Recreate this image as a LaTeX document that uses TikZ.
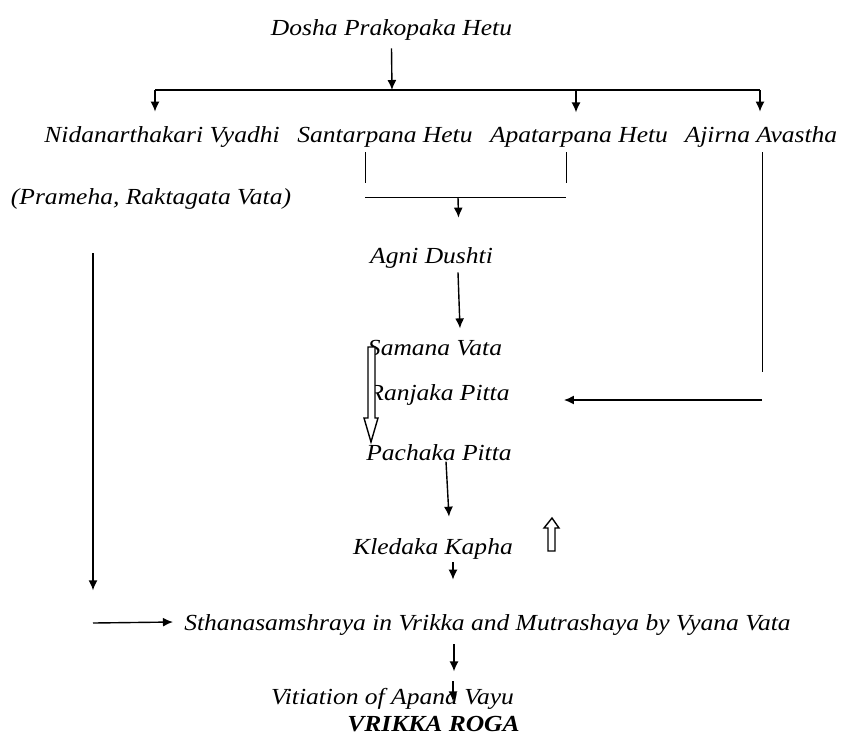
\documentclass[tikz,border=0pt]{standalone}
\usepackage{fontspec}
\setmainfont{Liberation Serif}[FakeStretch=1.11]
\usetikzlibrary{arrows.meta,positioning,calc}

\begin{document}
\begin{tikzpicture}[x=0.5pt,y=-0.5pt,>={Latex[length=5pt,width=4.5pt]},
  lbl/.style={font=\fontsize{11.5}{14}\selectfont\itshape,inner sep=0pt,anchor=base},
  arr/.style={->,line width=0.7pt},
  hollow/.style={draw,fill=white,line width=0.7pt}]
\useasboundingbox (0,0) rectangle (846,736);
% labels
\node[lbl] (dosha) at (391.5,35) {Dosha Prakopaka Hetu};
\node[lbl] (nidana) at (162,142) {Nidanarthakari Vyadhi};
\node[lbl] (santarpana) at (385,142) {Santarpana Hetu};
\node[lbl] (apatarpana) at (579,142) {Apatarpana Hetu};
\node[lbl] (ajirna) at (761,142) {Ajirna Avastha};
\node[lbl] (prameha) at (151,204) {(Prameha, Raktagata Vata)};
\node[lbl] (agni) at (431.5,263) {Agni Dushti};
\node[lbl] (samana) at (435,355) {Samana Vata};
\node[lbl] (ranjaka) at (439,400) {Ranjaka Pitta};
\node[lbl] (pachaka) at (439,460) {Pachaka Pitta};
\node[lbl] (kledaka) at (433,554) {Kledaka Kapha};
\node[lbl] (sthana) at (487.5,630) {Sthanasamshraya in Vrikka and Mutrashaya by Vyana Vata};
\node[lbl] (apana) at (392.5,704) {Vitiation of Apana Vayu};
\node[lbl,font=\fontsize{11.5}{14}\selectfont\bfseries\itshape] (roga) at (433.5,731) {VRIKKA ROGA};

% top split
\coordinate (trunk) at (392,90);
\coordinate (tl) at (155,90);
\coordinate (tr) at (760,90);
\draw[arr] ($(dosha.south)+(0,8)$) -- (trunk);
\draw[line width=0.7pt] (tl) -- (tr);
\draw[arr] (tl) -- ($(nidana.north)+(-7,-14)$);
\draw[arr] (tr -| 576,0) -- ($(apatarpana.north)+(-3,-14)$);
\draw[arr] (tr) -- ($(ajirna.north)+(-1,-14)$);

% santarpana / apatarpana bracket
\coordinate (bl) at (365,197);
\coordinate (br) at (566,197);
\coordinate (bm) at (458,197);
\draw ($(santarpana.south)+(-20,5)$) -- +(0,31);
\draw ($(apatarpana.south)+(-13,5)$) -- +(0,31);
\draw (bl) -- (br);
\draw[arr] (bm) -- ($(agni.north)+(27,-29)$);
\draw[arr] ($(agni.south)+(26.5,4)$) -- ($(samana.north)+(25,-11)$);

% ajirna to ranjaka
\coordinate (aj) at (762,400);
\draw ($(ajirna.south)+(1,5)$) -- +(0,220);
\draw[arr] (aj) -- ($(ranjaka.base east)+(54,0)$);

% hollow arrow down
\draw[hollow] (368,347) -- (375,347) -- (375,418) -- (378,418) -- (371,442)
  -- (364,418) -- (368,418) -- cycle;

\draw[arr] ($(pachaka.south)+(7,1)$) -- ($(kledaka.north)+(16,-21)$);

% hollow arrow up
\draw[hollow] (548,551) -- (555,551) -- (555,528) -- (559,528) -- (552,518)
  -- (544,528) -- (548,528) -- cycle;

\draw[arr] ($(kledaka.south)+(20,3)$) -- ($(sthana.north)+(-34.5,-34)$);

% nidanarthakari branch
\coordinate (nd) at (93,623);
\draw[arr] ($(prameha.south)+(-58,44)$) -- +(0,337);
\draw[arr] (nd) -- ($(sthana.base west)+(-11,-8)$);

\draw[arr] ($(sthana.south)+(-33.5,9)$) -- ($(apana.north)+(61.5,-16)$);
\draw[arr] ($(apana.north)+(60.5,-6)$) -- ($(roga.north)+(19.5,-14)$);
\end{tikzpicture}
\end{document}
